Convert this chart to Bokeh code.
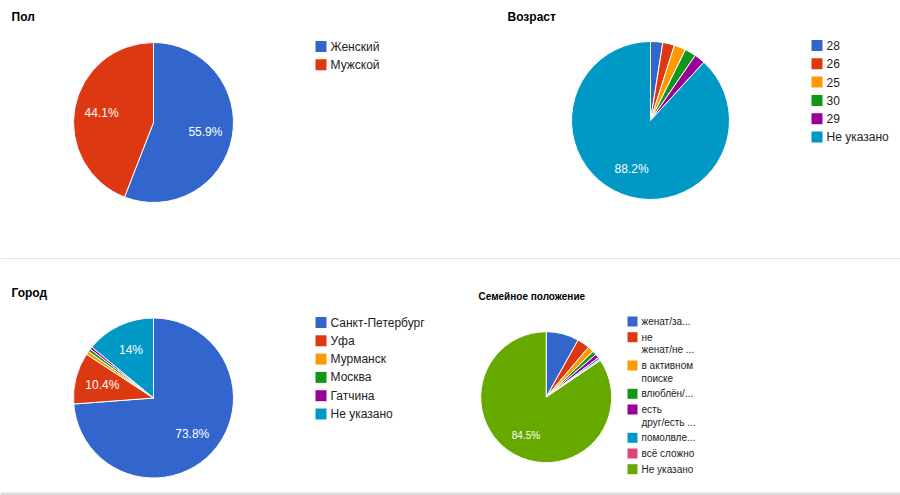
import math
from bokeh.plotting import figure
from bokeh.models import Range1d, ColumnDataSource
from bokeh.core.properties import value
from bokeh.embed import file_html
from bokeh.resources import INLINE

# ---------------- data ----------------
gender_title = "Пол"
gender_labels = ["Женский", "Мужской"]
gender_values = [55.9, 44.1]

age_title = "Возраст"
age_labels = ["28", "26", "25", "30", "29", "Не указано"]
age_values = [2.5, 2.4, 2.4, 2.3, 2.2, 88.2]

city_title = "Город"
city_labels = ["Санкт-Петербург", "Уфа", "Мурманск", "Москва", "Гатчина", "Не указано"]
city_values = [73.8, 10.4, 0.7, 0.6, 0.5, 14.0]

marital_title = "Семейное положение"
marital_labels = [["женат/за..."], ["не", "женат/не ..."], ["в активном", "поиске"],
                  ["влюблён/..."], ["есть", "друг/есть ..."], ["помолвле..."],
                  ["всё сложно"], ["Не указано"]]
marital_values = [8.1, 3.1, 1.5, 1.0, 1.0, 0.5, 0.3, 84.5]

palette = ["#3366cc", "#dc3912", "#ff9900", "#109618", "#990099", "#0099c6", "#dd4477", "#66aa00"]

W, H = 900, 495
FONT = "Liberation Sans"

p = figure(width=W, height=H, x_range=Range1d(0, W), y_range=Range1d(0, H),
           output_backend="svg", toolbar_location=None,
           x_axis_location=None, y_axis_location=None, tools="")
p.min_border = 0
p.min_border_left = p.min_border_right = p.min_border_top = p.min_border_bottom = 0
p.outline_line_color = None
p.grid.visible = False
p.background_fill_color = "white"
p.border_fill_color = "white"


def Y(y):
    return H - y


def fmt(v):
    return ("%g" % v) + "%"


def pie(cx, cy, r, values, label_size):
    total = float(sum(values))
    starts, ends, cols = [], [], []
    lx, ly, lt = [], [], []
    cum = 0.0
    for i, v in enumerate(values):
        a0 = math.pi / 2 - 2 * math.pi * cum / total
        a1 = math.pi / 2 - 2 * math.pi * (cum + v) / total
        starts.append(a1)
        ends.append(a0)
        cols.append(palette[i])
        if v / total * 100 >= 10:
            mid = (a0 + a1) / 2
            lx.append(cx + 0.66 * r * math.cos(mid))
            ly.append(Y(cy) + 0.66 * r * math.sin(mid))
            lt.append(fmt(v))
        cum += v
    src = ColumnDataSource(dict(x=[cx] * len(values), y=[Y(cy)] * len(values),
                                s=starts, e=ends, c=cols))
    p.wedge(x="x", y="y", radius=r, start_angle="s", end_angle="e",
            fill_color="c", line_color="white", line_width=1, source=src)
    p.text(x=lx, y=ly, text=lt, text_color="white", text_align="center",
           text_baseline="middle", text_font=value(FONT),
           text_font_size=label_size)


def legend(x, y, labels, sw, size, step, line_h):
    cy = y
    for i, lab in enumerate(labels):
        lines = lab if isinstance(lab, list) else [lab]
        p.rect(x=x + sw / 2, y=Y(cy), width=sw, height=sw,
               fill_color=palette[i], line_color=None)
        for j, t in enumerate(lines):
            p.text(x=[x + sw + 4], y=[Y(cy + j * line_h)], text=[t],
                   text_color="#222222", text_align="left", text_baseline="middle",
                   text_font=value(FONT), text_font_size=size)
        cy += step + line_h * (len(lines) - 1)


def title(x, y, t, size):
    p.text(x=[x], y=[Y(y)], text=[t], text_color="#000000", text_align="left",
           text_baseline="middle", text_font=value(FONT), text_font_size=size,
           text_font_style="bold")


# dividers
p.segment(x0=[0], y0=[Y(258)], x1=[W], y1=[Y(258)], line_color="#e3e3e3", line_width=1)
p.rect(x=[W / 2], y=[Y(493.5)], width=W, height=3, fill_color="#dddddd", line_color=None)

# charts
title(11, 16, gender_title, "12px")
pie(153, 122, 80, gender_values, "12px")
legend(315, 46, gender_labels, 11, "12px", 18.3, 0)

title(507, 16, age_title, "12px")
pie(650, 120, 79, age_values, "12px")
legend(811, 45, age_labels, 11, "12px", 18.3, 0)

title(11, 292, city_title, "12px")
pie(153, 397.5, 80, city_values, "12px")
legend(315, 322, city_labels, 11, "12px", 18.3, 0)

title(478, 296, marital_title, "10px")
pie(545.7, 396.7, 65.5, marital_values, "10px")
legend(627, 321, marital_labels, 10, "10px", 15.7, 12.6)

open("out.html", "w").write(file_html(p, INLINE))
